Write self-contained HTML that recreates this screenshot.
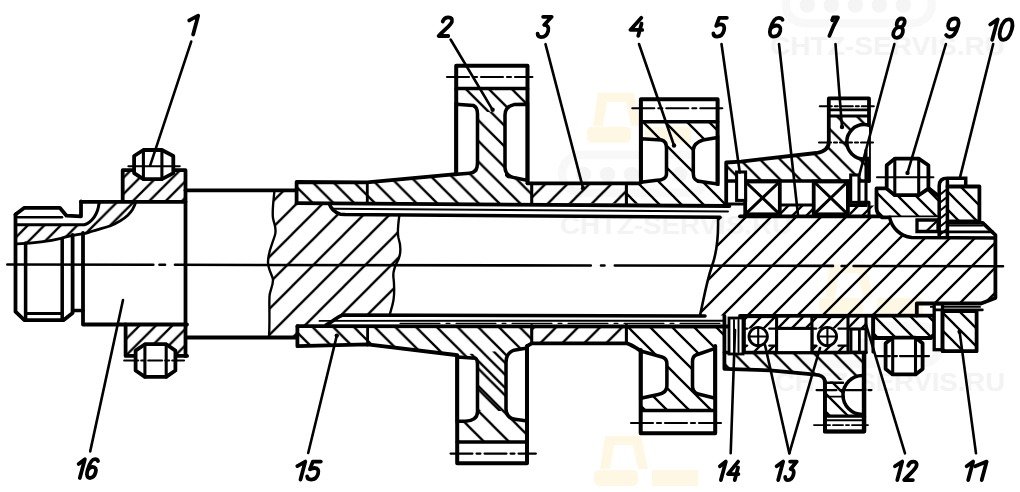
<!DOCTYPE html>
<html><head><meta charset="utf-8"><style>html,body{margin:0;padding:0;background:#fff;width:1020px;height:492px;overflow:hidden}svg{display:block}</style></head>
<body><svg width="1020" height="492" viewBox="0 0 1020 492"><defs><pattern id="hs" patternUnits="userSpaceOnUse" x="6.3" y="0" width="26" height="26"><path d="M-26,26 L26,-26 M0,26 L26,0 M0,52 L52,0" stroke="#000" stroke-width="2.3" fill="none"/></pattern><pattern id="hsR" patternUnits="userSpaceOnUse" x="13" y="0" width="25" height="25"><path d="M-25,25 L25,-25 M0,25 L25,0 M0,50 L50,0" stroke="#000" stroke-width="2.3" fill="none"/></pattern><pattern id="hb" patternUnits="userSpaceOnUse" x="6.2" y="0" width="20.7" height="20.7"><path d="M-20.7,0 L20.7,41.4 M0,0 L20.7,20.7 M0,-20.7 L41.4,20.7" stroke="#000" stroke-width="2.3" fill="none"/></pattern><pattern id="h3" patternUnits="userSpaceOnUse" x="3.4" y="0" width="22" height="22"><path d="M-22,22 L22,-22 M0,22 L22,0 M0,44 L44,0" stroke="#000" stroke-width="2.3" fill="none"/></pattern><pattern id="hg4" patternUnits="userSpaceOnUse" x="15" y="0" width="22" height="22"><path d="M-22,0 L22,44 M0,0 L22,22 M0,-22 L44,22" stroke="#000" stroke-width="2.3" fill="none"/></pattern><pattern id="hh" patternUnits="userSpaceOnUse" x="0.6" y="0" width="20" height="20"><path d="M-20,0 L20,40 M0,0 L20,20 M0,-20 L40,20" stroke="#000" stroke-width="2.3" fill="none"/></pattern><pattern id="hs2" patternUnits="userSpaceOnUse" x="0" y="0" width="18" height="18"><path d="M-18,18 L18,-18 M0,18 L18,0 M0,36 L36,0" stroke="#000" stroke-width="2.3" fill="none"/></pattern><pattern id="hb2" patternUnits="userSpaceOnUse" x="0" y="0" width="14" height="14"><path d="M-14,0 L14,28 M0,0 L14,14 M0,-14 L28,14" stroke="#000" stroke-width="2.3" fill="none"/></pattern><pattern id="hs3" patternUnits="userSpaceOnUse" x="0" y="0" width="14" height="14"><path d="M-14,14 L14,-14 M0,14 L14,0 M0,28 L28,0" stroke="#000" stroke-width="2.3" fill="none"/></pattern><pattern id="hn" patternUnits="userSpaceOnUse" x="5.7" y="0" width="16.5" height="16.5"><path d="M-16.5,16.5 L16.5,-16.5 M0,16.5 L16.5,0 M0,33.0 L33.0,0" stroke="#000" stroke-width="2.3" fill="none"/></pattern><pattern id="hb3" patternUnits="userSpaceOnUse" x="0" y="0" width="18" height="18"><path d="M-18,0 L18,36 M0,0 L18,18 M0,-18 L36,18" stroke="#000" stroke-width="2.3" fill="none"/></pattern><pattern id="hc" patternUnits="userSpaceOnUse" x="5.9" y="0" width="16.4" height="16.4"><path d="M-16.4,16.4 L16.4,-16.4 M0,16.4 L16.4,0 M0,32.8 L32.8,0" stroke="#000" stroke-width="2.3" fill="none"/></pattern><pattern id="hg2u" patternUnits="userSpaceOnUse" x="8.8" y="0" width="23" height="23"><path d="M-23,0 L23,46 M0,0 L23,23 M0,-23 L46,23" stroke="#000" stroke-width="2.3" fill="none"/></pattern><pattern id="hg2l" patternUnits="userSpaceOnUse" x="17.3" y="0" width="25" height="25"><path d="M-25,0 L25,50 M0,0 L25,25 M0,-25 L50,25" stroke="#000" stroke-width="2.3" fill="none"/></pattern><clipPath id="c7u"><rect x="800" y="100" width="69" height="80"/></clipPath><clipPath id="c7l"><rect x="800" y="366" width="64.4" height="70"/></clipPath></defs><rect width="1020" height="492" fill="#fff"/><rect x="562" y="154.8" width="146" height="38" rx="19" fill="none" stroke="#f8f8f8" stroke-width="8.26"/><circle cx="583.5" cy="174.5" r="7.8" fill="#f5f5f5"/><circle cx="607.5" cy="174.5" r="7.8" fill="#f5f5f5"/><circle cx="631.5" cy="174.5" r="7.8" fill="#f5f5f5"/><circle cx="655.5" cy="174.5" r="7.8" fill="#f5f5f5"/><circle cx="679.5" cy="174.5" r="7.8" fill="#f5f5f5"/><path d="M598,92.8 L634,92.8 L641,125.8 L631,125.8 L626,101.8 L607,101.8 L603,125.8 L593,125.8 Z" fill="#fdf7e4"/><rect x="587" y="126.8" width="44" height="16" rx="5" fill="#fdf7e4"/><rect x="645" y="126.8" width="46" height="16" fill="#fdf7e4"/><rect x="569" y="498" width="146" height="38" rx="19" fill="none" stroke="#f8f8f8" stroke-width="8.26"/><circle cx="590.5" cy="517.7" r="7.8" fill="#f5f5f5"/><circle cx="614.5" cy="517.7" r="7.8" fill="#f5f5f5"/><circle cx="638.5" cy="517.7" r="7.8" fill="#f5f5f5"/><circle cx="662.5" cy="517.7" r="7.8" fill="#f5f5f5"/><circle cx="686.5" cy="517.7" r="7.8" fill="#f5f5f5"/><path d="M605,436 L641,436 L648,469 L638,469 L633,445 L614,445 L610,469 L600,469 Z" fill="#fdf7e4"/><rect x="594" y="470" width="44" height="16" rx="5" fill="#fdf7e4"/><rect x="652" y="470" width="46" height="16" fill="#fdf7e4"/><rect x="794" y="326" width="146" height="38" rx="19" fill="none" stroke="#f8f8f8" stroke-width="8.26"/><circle cx="815.5" cy="345.7" r="7.8" fill="#f5f5f5"/><circle cx="839.5" cy="345.7" r="7.8" fill="#f5f5f5"/><circle cx="863.5" cy="345.7" r="7.8" fill="#f5f5f5"/><circle cx="887.5" cy="345.7" r="7.8" fill="#f5f5f5"/><circle cx="911.5" cy="345.7" r="7.8" fill="#f5f5f5"/><path d="M830,264 L866,264 L873,297 L863,297 L858,273 L839,273 L835,297 L825,297 Z" fill="#fdf7e4"/><rect x="819" y="298" width="44" height="16" rx="5" fill="#fdf7e4"/><rect x="877" y="298" width="46" height="16" fill="#fdf7e4"/><rect x="785.8" y="-14.799999999999997" width="146" height="38" rx="19" fill="none" stroke="#f8f8f8" stroke-width="8.26"/><circle cx="807.3" cy="4.900000000000006" r="7.8" fill="#f5f5f5"/><circle cx="831.3" cy="4.900000000000006" r="7.8" fill="#f5f5f5"/><circle cx="855.3" cy="4.900000000000006" r="7.8" fill="#f5f5f5"/><circle cx="879.3" cy="4.900000000000006" r="7.8" fill="#f5f5f5"/><circle cx="903.3" cy="4.900000000000006" r="7.8" fill="#f5f5f5"/><path d="M821.8,-76.8 L857.8,-76.8 L864.8,-43.8 L854.8,-43.8 L849.8,-67.8 L830.8,-67.8 L826.8,-43.8 L816.8,-43.8 Z" fill="#fdf7e4"/><rect x="810.8" y="-42.8" width="44" height="16" rx="5" fill="#fdf7e4"/><rect x="868.8" y="-42.8" width="46" height="16" fill="#fdf7e4"/><text x="770" y="54.8" font-family="Liberation Sans, sans-serif" font-weight="bold" font-size="25" fill="#f3f3f3" textLength="235" lengthAdjust="spacingAndGlyphs">CHTZ-SERVIS.RU</text><text x="560" y="234.4" font-family="Liberation Sans, sans-serif" font-weight="bold" font-size="25" fill="#f3f3f3" textLength="232" lengthAdjust="spacingAndGlyphs">CHTZ-SERVIS.RU</text><text x="775" y="390.8" font-family="Liberation Sans, sans-serif" font-weight="bold" font-size="25" fill="#f3f3f3" textLength="230" lengthAdjust="spacingAndGlyphs">CHTZ-SERVIS.RU</text><line x1="7.3" y1="264.51" x2="153.3" y2="264.76" stroke="#000" stroke-width="2.60" stroke-linecap="round" stroke-linecap="butt"/><line x1="159.5" y1="264.77" x2="165" y2="264.78" stroke="#000" stroke-width="2.60" stroke-linecap="round" stroke-linecap="butt"/><line x1="175" y1="264.8" x2="590.8" y2="265.5" stroke="#000" stroke-width="2.60" stroke-linecap="round" stroke-linecap="butt"/><line x1="601" y1="265.52" x2="604.5" y2="265.53" stroke="#000" stroke-width="2.60" stroke-linecap="round" stroke-linecap="butt"/><line x1="614.8" y1="265.55" x2="833" y2="265.92" stroke="#000" stroke-width="2.60" stroke-linecap="round" stroke-linecap="butt"/><line x1="841.6" y1="265.93" x2="846.7" y2="265.94" stroke="#000" stroke-width="2.60" stroke-linecap="round" stroke-linecap="butt"/><line x1="853.6" y1="265.95" x2="1003" y2="266.21" stroke="#000" stroke-width="2.60" stroke-linecap="round" stroke-linecap="butt"/><path d="M17,224.8 L84.4,224.8 C92,222 98,214 99,203.4 L135.6,202.4 C133,212 126,219 110,226 C100,229 92,231 85.4,233.4 C75,235 65,237 61,238.3 C50,241 35,243 17,243.8 Z" fill="url(#hn)" stroke="none"/><path d="M15.5,214.5 L24.4,207.8 L59.8,207.8 L66.5,215.7 L81,216.3 L81,201.5" fill="none" stroke="#000" stroke-width="3.78" stroke-linejoin="round" stroke-linecap="round" /><path d="M18,217.2 L62,217.2" fill="none" stroke="#000" stroke-width="2.60" stroke-linejoin="round" stroke-linecap="round" /><path d="M16,224.8 L84.4,224.8 C92,222 98,214 99,203.4" fill="none" stroke="#000" stroke-width="3.07" stroke-linejoin="round" stroke-linecap="round" /><path d="M17,243.8 C35,243 50,241 61,238.3 C65,237 75,235 85.4,233.4 C92,231 100,229 110,226 C126,219 133,212 135.6,202.4" fill="none" stroke="#000" stroke-width="2.83" stroke-linejoin="round" stroke-linecap="round" /><path d="M15.5,214.5 L15.5,311.7 L24.4,320.2 L63.4,320.2 L72.6,313 L72.6,235" fill="none" stroke="#000" stroke-width="3.78" stroke-linejoin="round" stroke-linecap="round" /><line x1="25.6" y1="243" x2="25.6" y2="320" stroke="#000" stroke-width="3.54" stroke-linecap="round" /><line x1="62.2" y1="238.5" x2="62.2" y2="320" stroke="#000" stroke-width="3.54" stroke-linecap="round" /><line x1="25.6" y1="313.5" x2="62.2" y2="313.5" stroke="#000" stroke-width="2.83" stroke-linecap="round" /><path d="M72.6,310.5 L83,310.5" fill="none" stroke="#000" stroke-width="3.54" stroke-linejoin="round" stroke-linecap="round" /><path d="M81,201.8 L185.5,201.8" fill="none" stroke="#000" stroke-width="3.78" stroke-linejoin="round" stroke-linecap="round" /><path d="M83,233 L83,324.5 L187,324.5" fill="none" stroke="#000" stroke-width="3.78" stroke-linejoin="round" stroke-linecap="round" /><path d="M122.7,170.2 L185.1,170.2 L185.1,201.2 L122.7,201.2 Z" fill="url(#hc)" stroke="none"/><path d="M122.7,201.2 L122.7,170.2 L185.5,170.2 L185.5,356" fill="none" stroke="#000" stroke-width="3.78" stroke-linejoin="round" stroke-linecap="round" /><path d="M125.6,324.5 L187.1,324.5 L187.1,355.9 L125.6,355.9 Z" fill="url(#hc)" stroke="none"/><path d="M125.6,324.5 L125.6,355.9 L187.1,355.9" fill="none" stroke="#000" stroke-width="3.78" stroke-linejoin="round" stroke-linecap="round" /><path d="M134.1,156 L143.4,150 L161.9,150 L173.3,156 L173.3,173.1 L161.9,179.1 L143.4,179.1 L134.1,173.1 Z" fill="#fff" stroke="#000" stroke-width="3.78" stroke-linejoin="round"/><line x1="143.4" y1="150" x2="143.4" y2="179.1" stroke="#000" stroke-width="3.07" stroke-linecap="round" /><line x1="161.9" y1="150" x2="161.9" y2="179.1" stroke="#000" stroke-width="3.07" stroke-linecap="round" /><line x1="128.4" y1="166.3" x2="179.7" y2="166.3" stroke="#000" stroke-width="2.12" stroke-linecap="round" /><path d="M135.6,350.59999999999997 L144.9,344.2 L166.2,344.2 L175.4,350.59999999999997 L175.4,370.5 L166.2,376.9 L144.9,376.9 L135.6,370.5 Z" fill="#fff" stroke="#000" stroke-width="3.78" stroke-linejoin="round"/><line x1="144.9" y1="344.2" x2="144.9" y2="376.9" stroke="#000" stroke-width="3.07" stroke-linecap="round" /><line x1="166.2" y1="344.2" x2="166.2" y2="376.9" stroke="#000" stroke-width="3.07" stroke-linecap="round" /><line x1="124.2" y1="360.5" x2="184" y2="360.5" stroke="#000" stroke-width="2.12" stroke-linecap="round" stroke-dasharray="14 3 4 3"/><path d="M274.5,190.3 L296.6,190.3 L296.6,203.2 L329.2,203.6 C331,209 334,212 340.2,214.2 L345,214.6 L399.4,215 C398,225 397,232 398.5,238 C401,246 401,252 399,258 C397,263 393,268 393.3,276 C394,282 395,290 393.5,300 C392.5,306 391,310 389.6,315 L342.7,315 C336,317 333,322 326.2,324.8 L296.6,326.2 L296.6,337.5 L269,337.5 C270,320 269,305 269.5,296 C270,290 273,286 273,280 C273,276 268,270 268,262 C268,252 272,245 275,235 C277,228 274,224 273,218 C272,212 273,205 274.5,190.3 Z" fill="url(#hs)" stroke="none"/><path d="M185.5,190.3 L296.6,190.3" fill="none" stroke="#000" stroke-width="3.78" stroke-linejoin="round" stroke-linecap="round" /><path d="M187,337.5 L296.6,337.5" fill="none" stroke="#000" stroke-width="3.78" stroke-linejoin="round" stroke-linecap="round" /><path d="M274.5,190.3 C273,205 272,212 273,218 C274,224 277,228 275,235 C272,245 268,252 268,262 C268,270 273,276 273,280 C273,286 270,290 269.5,296 C269,305 270,320 269,337.5" fill="none" stroke="#000" stroke-width="2.36" stroke-linejoin="round" stroke-linecap="round" /><path d="M399.4,215 C398,225 397,232 398.5,238 C401,246 401,252 399,258 C397,263 393,268 393.3,276 C394,282 395,290 393.5,300 C392.5,306 391,310 389.6,315" fill="none" stroke="#000" stroke-width="2.36" stroke-linejoin="round" stroke-linecap="round" /><path d="M329.2,203.6 C331,209 334,212 340.2,214.2 L345,214.6 L720,217.3" fill="none" stroke="#000" stroke-width="3.54" stroke-linejoin="round" stroke-linecap="round" /><path d="M326.2,324.8 C333,322 336,317 342.7,315 L705,316" fill="none" stroke="#000" stroke-width="3.54" stroke-linejoin="round" stroke-linecap="round" /><path d="M332,208.7 L728,211.5" fill="none" stroke="#000" stroke-width="1.89" stroke-linejoin="round" stroke-linecap="round" /><path d="M319.5,320.9 L725,320.7" fill="none" stroke="#000" stroke-width="1.89" stroke-linejoin="round" stroke-linecap="round" /><line x1="400" y1="323.3" x2="722" y2="323.3" stroke="#000" stroke-width="1.18" stroke-linecap="round" stroke-dasharray="40 6 4 6" stroke="#444"/><path d="M296.6,182 L367,182.4 L456.2,174.2 L469,173.3 C474,172 477.5,168 477.5,163 L477.5,112 L505,112 L505,167 C505,175 512,179 527.5,180.5 L531.7,183.3 L531.7,203.2 L296.6,203.4 Z" fill="url(#hb)" stroke="none"/><path d="M297.4,326.2 L531.7,325.6 L531.7,343.4 L528.2,348 C514,350 506,354 506,360 L506,411 L477.5,411 L477.5,358.5 C470,357 462,355.5 457,355.2 L455.9,355 L367.6,344.4 L297.4,346.2 Z" fill="url(#hb)" stroke="none"/><path d="M296.6,203.4 L296.6,182 L367,182.4 L456.2,174.2" fill="none" stroke="#000" stroke-width="3.78" stroke-linejoin="round" stroke-linecap="round" /><path d="M296.6,203.2 L729.4,206" fill="none" stroke="#000" stroke-width="3.78" stroke-linejoin="round" stroke-linecap="round" /><line x1="367.3" y1="183.4" x2="367.3" y2="201.2" stroke="#000" stroke-width="2.83" stroke-linecap="round" /><path d="M297.4,326.2 L297.4,346.2 L367.6,344.4 L455.9,355" fill="none" stroke="#000" stroke-width="3.78" stroke-linejoin="round" stroke-linecap="round" /><path d="M297.4,326.2 L729,326.5" fill="none" stroke="#000" stroke-width="3.78" stroke-linejoin="round" stroke-linecap="round" /><line x1="367.6" y1="327" x2="367.6" y2="345" stroke="#000" stroke-width="2.83" stroke-linecap="round" /><path d="M456.2,88.4 L527.5,88.4 L527.5,180.5 L505,178 L505,112 L477.5,112 L477.5,174 L456.2,174.3 Z" fill="url(#hg2u)" stroke="none"/><path d="M456.2,104.2 L473.4,105.5 C477,107 477.5,110 477.5,114 L477.5,163 C477.5,170 474,173 469.4,173.3 L456.2,174.3 Z" fill="#fff" stroke="#000" stroke-width="3.54"/><path d="M527.5,104.2 L514,104.6 C508,106 505,110 505,115 L505,167 C505,174 510,177.4 516,178 L527.5,180.4 Z" fill="#fff" stroke="#000" stroke-width="3.54"/><path d="M456.2,174.3 L456.2,65.7 L527.5,65.7 L527.5,182.6" fill="none" stroke="#000" stroke-width="4.01" stroke-linejoin="round" stroke-linecap="round" /><line x1="456.2" y1="88.4" x2="527.5" y2="88.4" stroke="#000" stroke-width="3.54" stroke-linecap="round" /><line x1="447" y1="77" x2="532.4" y2="77" stroke="#000" stroke-width="2.12" stroke-linecap="round" stroke-dasharray="22 4 4 4"/><path d="M457.2,355.2 L527,348 L527,442 L457.2,442 Z" fill="url(#hg2l)" stroke="none"/><path d="M457.2,357 L475.5,358.3 C477,359 477.5,362 477.5,366 L477.5,412 C477.5,418 472,421.3 465.3,421.3 L457.2,421.3 Z" fill="#fff" stroke="#000" stroke-width="3.54"/><path d="M527,348.1 L514,350.2 C509,352 506,356 506,362 L506,409 C506,415 510,419 515,419.2 L527,421 Z" fill="#fff" stroke="#000" stroke-width="3.54"/><path d="M457.2,355.2 L457.2,463.3 L527,463.3 L527,346.2" fill="none" stroke="#000" stroke-width="4.01" stroke-linejoin="round" stroke-linecap="round" /><line x1="457.2" y1="442" x2="527" y2="442" stroke="#000" stroke-width="3.54" stroke-linecap="round" /><line x1="450.5" y1="453.6" x2="535.9" y2="453.6" stroke="#000" stroke-width="2.12" stroke-linecap="round" stroke-dasharray="22 4 4 4"/><path d="M531.7,183.3 L626.4,183.5 L626.4,203.5 L531.7,203.2 Z" fill="url(#h3)" stroke="none"/><path d="M531.7,325.6 L626.4,325 L626.4,343.4 L531.7,343.4 Z" fill="url(#h3)" stroke="none"/><path d="M527.5,183.3 L640,183.3" fill="none" stroke="#000" stroke-width="3.78" stroke-linejoin="round" stroke-linecap="round" /><line x1="531.7" y1="183.3" x2="531.7" y2="203.2" stroke="#000" stroke-width="3.07" stroke-linecap="round" /><line x1="626.4" y1="183.5" x2="626.4" y2="203.5" stroke="#000" stroke-width="3.07" stroke-linecap="round" /><path d="M527,346.2 L531.7,343.4 L627,343.4 C632,345 637,348.5 640.7,350.8" fill="none" stroke="#000" stroke-width="3.78" stroke-linejoin="round" stroke-linecap="round" /><line x1="531.7" y1="325.6" x2="531.7" y2="343.4" stroke="#000" stroke-width="3.07" stroke-linecap="round" /><line x1="626.4" y1="325" x2="626.4" y2="343.4" stroke="#000" stroke-width="3.07" stroke-linecap="round" /><path d="M626.4,183.5 L640.9,182.2 L640.9,121.7 L717.6,121.7 L717.6,184 L726,185 L726,205 L626.4,203.5 Z" fill="url(#hg4)" stroke="none"/><path d="M640.9,138.8 L661.6,140 C665,141 666.5,144 666.5,148 L666.5,174 C666.5,178 662,180.2 656.7,180.2 L640.9,182.2 Z" fill="#fff" stroke="#000" stroke-width="3.54"/><path d="M717.6,137.6 L703,140 C697,142 693.3,145 693.3,150 L693.3,174 C693.3,178 696,181.5 700.6,181.5 L717.6,184 Z" fill="#fff" stroke="#000" stroke-width="3.54"/><path d="M640.9,182.2 L640.9,99.2 L717.6,99.2 L717.6,184" fill="none" stroke="#000" stroke-width="4.01" stroke-linejoin="round" stroke-linecap="round" /><line x1="640.9" y1="121.7" x2="717.6" y2="121.7" stroke="#000" stroke-width="3.54" stroke-linecap="round" /><line x1="632.3" y1="108.3" x2="725" y2="108.3" stroke="#000" stroke-width="2.12" stroke-linecap="round" stroke-dasharray="22 4 4 4"/><path d="M626.4,325 L724,325.5 L724,345 L715.2,347 L715.2,410.5 L640.7,410.5 L640.7,350 C632,348 628,345 626.4,343.4 Z" fill="url(#hg4)" stroke="none"/><path d="M640.7,351 L662,357 C665.5,358 666.9,360 666.9,364 L666.9,386 C666.9,391 663,393.5 658.3,394.5 L640.7,398.2 Z" fill="#fff" stroke="#000" stroke-width="3.54"/><path d="M715.2,348.4 L696,355 C693.5,356 692.5,358 692.5,362 L692.5,386 C692.5,391 694.5,393 698.2,394 L715.2,398.2 Z" fill="#fff" stroke="#000" stroke-width="3.54"/><path d="M640.7,350 L640.7,433.2 L715.2,433.2 L715.2,346" fill="none" stroke="#000" stroke-width="4.01" stroke-linejoin="round" stroke-linecap="round" /><line x1="640.7" y1="410.5" x2="715.2" y2="410.5" stroke="#000" stroke-width="3.54" stroke-linecap="round" /><line x1="631" y1="423" x2="721" y2="423" stroke="#000" stroke-width="2.12" stroke-linecap="round" stroke-dasharray="22 4 4 4"/><path d="M718,217.8 C718.5,235 717,252 712,266 C707,280 704.5,295 700,315.5 L916.8,315.5 L916.8,303.5 L981.1,303.5 L995.4,298 L995.4,238 L911.6,238 C900,236 892,228 889.6,217.3 L740,216.5 Z" fill="url(#hsR)" stroke="none"/><path d="M718,217.8 C718.5,235 717,252 712,266 C707,280 704.5,295 700,315.5" fill="none" stroke="#000" stroke-width="2.60" stroke-linejoin="round" stroke-linecap="round" /><path d="M740,216.3 L880,216.3" fill="none" stroke="#000" stroke-width="3.78" stroke-linejoin="round" stroke-linecap="round" /><path d="M740,316 L934,315.6" fill="none" stroke="#000" stroke-width="3.78" stroke-linejoin="round" stroke-linecap="round" /><path d="M726.2,162.5 L740.9,161.6 L816.5,153 C823,152 828.8,149 828.8,142 L828.8,116 L869,116 L869,181 L745,181 L745,172 L736.6,172 L736.6,181 L726.2,181 Z" fill="url(#hh)" stroke="none"/><path d="M726.2,204 L726.2,162.5 L740.9,161.6 L816.5,153 C823,152 828.8,149 828.8,142 L828.8,98.4 L869,98.4 L869,181" fill="none" stroke="#000" stroke-width="3.78" stroke-linejoin="round" stroke-linecap="round" /><line x1="728" y1="181" x2="869" y2="181" stroke="#000" stroke-width="3.54" stroke-linecap="round" /><line x1="819.8" y1="106.2" x2="874.6" y2="106.2" stroke="#000" stroke-width="2.12" stroke-linecap="round" stroke-dasharray="12 3 3 3"/><line x1="829" y1="109.8" x2="869" y2="109.8" stroke="#000" stroke-width="2.83" stroke-linecap="round" /><line x1="829" y1="116" x2="869" y2="116" stroke="#000" stroke-width="2.83" stroke-linecap="round" /><path d="M869,124.7 A17.2,17.2 0 0,0 869,159" fill="#fff" stroke="#000" stroke-width="3.54"/><circle cx="864" cy="141.8" r="17.2" fill="#fff" stroke="#000" stroke-width="3.54" clip-path="url(#c7u)"/><line x1="819" y1="142.5" x2="875.3" y2="142.5" stroke="#000" stroke-width="2.12" stroke-linecap="round" stroke-dasharray="12 3 3 3"/><rect x="745.2" y="181.5" width="34.59999999999991" height="32.80000000000001" fill="#fff" stroke="#000" stroke-width="3.78"/><line x1="745.2" y1="181.5" x2="779.8" y2="214.3" stroke="#000" stroke-width="3.07" stroke-linecap="round" /><line x1="745.2" y1="214.3" x2="779.8" y2="181.5" stroke="#000" stroke-width="3.07" stroke-linecap="round" /><rect x="813.7" y="181.5" width="34.19999999999993" height="32.80000000000001" fill="#fff" stroke="#000" stroke-width="3.78"/><line x1="813.7" y1="181.5" x2="847.9" y2="214.3" stroke="#000" stroke-width="3.07" stroke-linecap="round" /><line x1="813.7" y1="214.3" x2="847.9" y2="181.5" stroke="#000" stroke-width="3.07" stroke-linecap="round" /><path d="M779.8,205 L813.7,205 L813.7,216 L779.8,216 Z" fill="url(#hs3)" stroke="none"/><line x1="779.8" y1="205" x2="813.7" y2="205" stroke="#000" stroke-width="3.07" stroke-linecap="round" /><rect x="736.6" y="172" width="9" height="28.4" fill="#fff" stroke="#000" stroke-width="3.07"/><rect x="850.7" y="175" width="8.3" height="27.4" fill="#fff" stroke="#000" stroke-width="3.07"/><path d="M726.2,204 L745,204" fill="none" stroke="#000" stroke-width="2.83" stroke-linejoin="round" stroke-linecap="round" /><path d="M859,202.4 L869,202.4 L869,216" fill="none" stroke="#000" stroke-width="3.07" stroke-linejoin="round" stroke-linecap="round" /><path d="M724.4,352.6 L866,352.6 L866,380 L842,380 L826,380 C823,376 820,375 815.6,374.7 L770,370.3 L724.4,368.8 Z" fill="url(#hh)" stroke="none"/><path d="M724.4,316 L724.4,368.8 L770,370.3 L815.6,374.7 C820,375 824.9,377 824.9,382 L824.9,431.3 L864.4,431.3 L864.4,352.6" fill="none" stroke="#000" stroke-width="3.78" stroke-linejoin="round" stroke-linecap="round" /><line x1="724.4" y1="352.6" x2="866" y2="352.6" stroke="#000" stroke-width="3.54" stroke-linecap="round" /><rect x="744.3" y="316.6" width="32.30000000000007" height="36.0" fill="url(#hs3)" stroke="none"/><rect x="744.3" y="328.6" width="32.30000000000007" height="17.0" fill="#fff" stroke="none"/><rect x="744.3" y="316.6" width="32.30000000000007" height="36.0" fill="none" stroke="#000" stroke-width="3.07"/><line x1="744.3" y1="328.6" x2="747.0" y2="328.6" stroke="#000" stroke-width="2.36" stroke-linecap="round" /><line x1="769.4000000000001" y1="328.6" x2="776.6" y2="328.6" stroke="#000" stroke-width="2.36" stroke-linecap="round" /><line x1="744.3" y1="345.6" x2="747.0" y2="345.6" stroke="#000" stroke-width="2.36" stroke-linecap="round" /><line x1="769.4000000000001" y1="345.6" x2="776.6" y2="345.6" stroke="#000" stroke-width="2.36" stroke-linecap="round" /><circle cx="758.2" cy="336.5" r="9.2" fill="#fff" stroke="#000" stroke-width="2.83"/><line x1="749.0" y1="336.5" x2="767.4000000000001" y2="336.5" stroke="#000" stroke-width="2.12" stroke-linecap="round" /><line x1="758.2" y1="327.3" x2="758.2" y2="345.7" stroke="#000" stroke-width="2.12" stroke-linecap="round" /><rect x="811.9" y="316.6" width="36.10000000000002" height="36.0" fill="url(#hs3)" stroke="none"/><rect x="811.9" y="328.6" width="36.10000000000002" height="17.0" fill="#fff" stroke="none"/><rect x="811.9" y="316.6" width="36.10000000000002" height="36.0" fill="none" stroke="#000" stroke-width="3.07"/><line x1="811.9" y1="328.6" x2="816.1999999999999" y2="328.6" stroke="#000" stroke-width="2.36" stroke-linecap="round" /><line x1="838.6" y1="328.6" x2="848" y2="328.6" stroke="#000" stroke-width="2.36" stroke-linecap="round" /><line x1="811.9" y1="345.6" x2="816.1999999999999" y2="345.6" stroke="#000" stroke-width="2.36" stroke-linecap="round" /><line x1="838.6" y1="345.6" x2="848" y2="345.6" stroke="#000" stroke-width="2.36" stroke-linecap="round" /><circle cx="827.4" cy="336.5" r="9.2" fill="#fff" stroke="#000" stroke-width="2.83"/><line x1="818.1999999999999" y1="336.5" x2="836.6" y2="336.5" stroke="#000" stroke-width="2.12" stroke-linecap="round" /><line x1="827.4" y1="327.3" x2="827.4" y2="345.7" stroke="#000" stroke-width="2.12" stroke-linecap="round" /><path d="M776.6,316.6 L811.9,316.6 L811.9,328.4 L776.6,328.4 Z" fill="url(#hs3)" stroke="none"/><rect x="776.6" y="328.4" width="35.3" height="24.2" fill="#fff" stroke="#000" stroke-width="3.07"/><rect x="729" y="318" width="14" height="36" fill="#fff" stroke="#000" stroke-width="2.83"/><line x1="734" y1="320" x2="734" y2="352" stroke="#000" stroke-width="1.89" stroke-linecap="round" /><line x1="738.5" y1="320" x2="738.5" y2="352" stroke="#000" stroke-width="1.89" stroke-linecap="round" /><path d="M848,316.6 L866,316.6 L866,329 L848,329 Z" fill="url(#hs3)" stroke="none"/><rect x="851" y="329" width="8.4" height="23" fill="#fff" stroke="#000" stroke-width="2.83"/><line x1="848" y1="329" x2="866" y2="329" stroke="#000" stroke-width="2.36" stroke-linecap="round" /><path d="M824.9,381.5 L864.4,381.5 L864.4,416.2 L824.9,416.2 Z" fill="url(#hb3)" stroke="none"/><circle cx="862.5" cy="395" r="19.5" fill="#fff" stroke="#000" stroke-width="3.54" clip-path="url(#c7l)"/><line x1="824.9" y1="416.2" x2="864.4" y2="416.2" stroke="#000" stroke-width="3.30" stroke-linecap="round" /><line x1="824.9" y1="420.3" x2="864.4" y2="420.3" stroke="#000" stroke-width="1.89" stroke-linecap="round" /><line x1="814" y1="425.1" x2="871" y2="425.1" stroke="#000" stroke-width="1.89" stroke-linecap="round" stroke-dasharray="10 3 3 3"/><line x1="816.5" y1="390.1" x2="872.7" y2="390.1" stroke="#000" stroke-width="2.12" stroke-linecap="round" stroke-dasharray="20 3 3 3"/><line x1="824.9" y1="396.6" x2="844" y2="396.6" stroke="#000" stroke-width="1.89" stroke-linecap="round" /><line x1="824.9" y1="382.8" x2="843" y2="382.8" stroke="#000" stroke-width="2.36" stroke-linecap="round" /><path d="M824.9,381.5 L824.9,431.7 L863.7,431.7 L863.7,352.6" fill="none" stroke="#000" stroke-width="3.78" stroke-linejoin="round" stroke-linecap="round" /><path d="M849.8,205.5 L875,205.5 L875,216.3 L849.8,216.3 Z" fill="url(#hs3)" stroke="none"/><line x1="849.8" y1="205.5" x2="866" y2="205.5" stroke="#000" stroke-width="2.83" stroke-linecap="round" /><line x1="866" y1="150" x2="866" y2="205.5" stroke="#000" stroke-width="3.07" stroke-linecap="round" /><path d="M876.5,188.4 L929,188.4 L938.5,196 L938.5,217.3 L882,217.3 C878,215 876.5,212 876.5,208 Z" fill="url(#hb3)" stroke="none"/><path d="M938.5,217.3 L882,217.3 C878,215 876.5,212 876.5,208 L876.5,188.4 L929,188.4 L938.5,196" fill="none" stroke="#000" stroke-width="3.78" stroke-linejoin="round" stroke-linecap="round" /><path d="M886.7,165.2 L894.8,158.6 L918.7,158.6 L928.4,165.2 L928.4,188.6 L918.7,195.2 L894.8,195.2 L886.7,188.6 Z" fill="#fff" stroke="#000" stroke-width="3.78" stroke-linejoin="round"/><line x1="894.8" y1="158.6" x2="894.8" y2="195.2" stroke="#000" stroke-width="3.07" stroke-linecap="round" /><line x1="918.7" y1="158.6" x2="918.7" y2="195.2" stroke="#000" stroke-width="3.07" stroke-linecap="round" /><line x1="877" y1="177.2" x2="933.4" y2="177.2" stroke="#000" stroke-width="2.12" stroke-linecap="round" /><path d="M889.6,217.3 C892,228 900,236 911.6,237.6 L940,237.6 L940,217.3 Z" fill="#fff" stroke="none"/><path d="M889.6,217.3 C892,228 900,236 911.6,237.6 L994.8,238" fill="none" stroke="#000" stroke-width="3.54" stroke-linejoin="round" stroke-linecap="round" /><path d="M917,220 L938,220 L938,231.5 L917,231.5 Z" fill="#fff" stroke="#000" stroke-width="3.30"/><line x1="926" y1="231.5" x2="936" y2="222" stroke="#000" stroke-width="2.36" stroke-linecap="round" /><path d="M939.2,236.5 L939.2,186 C939.2,181 942,178.3 947.4,178.3 L965.7,178.3 L965.7,186.5" fill="#fff" stroke="#000" stroke-width="3.54"/><line x1="947.4" y1="181" x2="947.4" y2="236.5" stroke="#000" stroke-width="3.54" stroke-linecap="round" /><line x1="940.8" y1="194" x2="945.8" y2="190" stroke="#000" stroke-width="2.12" stroke-linecap="round" /><line x1="940.8" y1="202" x2="945.8" y2="198" stroke="#000" stroke-width="2.12" stroke-linecap="round" /><line x1="940.8" y1="210" x2="945.8" y2="206" stroke="#000" stroke-width="2.12" stroke-linecap="round" /><line x1="940.8" y1="218" x2="945.8" y2="214" stroke="#000" stroke-width="2.12" stroke-linecap="round" /><line x1="940.8" y1="226" x2="945.8" y2="222" stroke="#000" stroke-width="2.12" stroke-linecap="round" /><line x1="940.8" y1="234" x2="945.8" y2="230" stroke="#000" stroke-width="2.12" stroke-linecap="round" /><path d="M947.4,186.5 L979.4,186.5 L979.4,221.3 L947.4,221.3 Z" fill="url(#hb3)" stroke="none"/><path d="M947.4,186.5 L979.4,186.5 L979.4,221.3 L947.4,221.3" fill="none" stroke="#000" stroke-width="3.78" stroke-linejoin="round" stroke-linecap="round" /><path d="M947.4,222.8 L982.7,222.8 L995.4,235 L995.4,298 L981.1,303.5 L916.8,303.5 L916.8,315.5" fill="none" stroke="#000" stroke-width="3.78" stroke-linejoin="round" stroke-linecap="round" /><line x1="948" y1="225.6" x2="983" y2="225.6" stroke="#000" stroke-width="1.65" stroke-linecap="round" /><line x1="940" y1="231.9" x2="992.8" y2="231.9" stroke="#000" stroke-width="2.60" stroke-linecap="round" /><line x1="930.8" y1="306.9" x2="980" y2="306.9" stroke="#000" stroke-width="1.89" stroke-linecap="round" /><line x1="866" y1="316" x2="866" y2="352.5" stroke="#000" stroke-width="3.07" stroke-linecap="round" /><line x1="873" y1="316" x2="873" y2="352" stroke="#000" stroke-width="3.07" stroke-linecap="round" /><path d="M873.2,315.5 L934.2,315.5 L934.2,334 L931,338 L873.2,338 Z" fill="url(#hb3)" stroke="none"/><path d="M873.2,315.5 L873.2,338 L931,338 L934.2,334 L934.2,315.5" fill="none" stroke="#000" stroke-width="3.78" stroke-linejoin="round" stroke-linecap="round" /><path d="M885.6,343.2 L892.7,337.7 L915.5,337.7 L922.6,343.2 L922.6,368.9 L915.5,374.4 L892.7,374.4 L885.6,368.9 Z" fill="#fff" stroke="#000" stroke-width="3.78" stroke-linejoin="round"/><line x1="892.7" y1="337.7" x2="892.7" y2="374.4" stroke="#000" stroke-width="3.07" stroke-linecap="round" /><line x1="915.5" y1="337.7" x2="915.5" y2="374.4" stroke="#000" stroke-width="3.07" stroke-linecap="round" /><line x1="876" y1="356.1" x2="929" y2="356.1" stroke="#000" stroke-width="2.12" stroke-linecap="round" stroke-dasharray="14 3 4 3"/><rect x="934.2" y="304" width="8.3" height="45.7" fill="#fff" stroke="#000" stroke-width="3.30"/><path d="M942.5,311 L976.6,311 L976.6,351.2 L942.5,351.2 Z" fill="url(#hb3)" stroke="none"/><path d="M942.5,311 L976.6,311 L976.6,351.2 L942.5,351.2 Z" fill="none" stroke="#000" stroke-width="3.78" stroke-linejoin="round" stroke-linecap="round" /><line x1="934.2" y1="309.9" x2="982.3" y2="309.9" stroke="#000" stroke-width="2.83" stroke-linecap="round" /><path d="M0,5 L10,0 L10,20" transform="translate(190.46,15.70) skewX(-15) scale(0.770,0.940)" fill="none" stroke="#000" stroke-width="3.78" vector-effect="non-scaling-stroke" stroke-linecap="round" stroke-linejoin="round"/><path d="M0.5,4.5 C0.8,1.5 2.8,0 5,0 C7.8,0 9.6,1.8 9.6,4.8 C9.6,8.5 5,12.5 0.3,20 L9.8,20" transform="translate(443.30,17.30) skewX(-15) scale(1.020,0.935)" fill="none" stroke="#000" stroke-width="3.78" vector-effect="non-scaling-stroke" stroke-linecap="round" stroke-linejoin="round"/><path d="M1,0 L9.5,0 L4.2,8 C7.8,8 9.8,10.5 9.8,14 C9.8,17.8 7.5,20 4.6,20 C2.2,20 0.6,18.6 0,16.5" transform="translate(542.09,16.80) skewX(-15) scale(1.010,1.015)" fill="none" stroke="#000" stroke-width="3.78" vector-effect="non-scaling-stroke" stroke-linecap="round" stroke-linejoin="round"/><path d="M6.5,0 L0,13.5 L10,13.5 M8,6.5 L8,20" transform="translate(633.66,17.80) skewX(-15) scale(1.180,0.900)" fill="none" stroke="#000" stroke-width="3.78" vector-effect="non-scaling-stroke" stroke-linecap="round" stroke-linejoin="round"/><path d="M9.3,0 L1.6,0 L0.8,8.6 C2.2,7.5 3.5,7.1 5,7.1 C8.2,7.1 9.8,9.8 9.8,13.6 C9.8,17.6 7.6,20 4.6,20 C2.2,20 0.6,18.6 0,16.5" transform="translate(717.56,17.80) skewX(-15) scale(1.000,0.940)" fill="none" stroke="#000" stroke-width="3.78" vector-effect="non-scaling-stroke" stroke-linecap="round" stroke-linejoin="round"/><path d="M9,2 C8.2,0.7 6.8,0 5.2,0 C2,0 0.3,4 0.3,12 C0.3,17 2.2,20 5,20 C8,20 9.7,17.5 9.7,14 C9.7,10.5 7.8,8.2 5,8.2 C2.6,8.2 0.9,9.8 0.3,12" transform="translate(772.95,17.80) skewX(-15) scale(1.120,0.940)" fill="none" stroke="#000" stroke-width="3.78" vector-effect="non-scaling-stroke" stroke-linecap="round" stroke-linejoin="round"/><path d="M0.2,3 L0.8,0 L10,0 C7,5.5 4.5,12 3,20" transform="translate(832.77,17.50) skewX(-15) scale(0.520,0.920)" fill="none" stroke="#000" stroke-width="3.78" vector-effect="non-scaling-stroke" stroke-linecap="round" stroke-linejoin="round"/><path d="M5,9 C2.2,9 0.9,7 0.9,4.6 C0.9,2 2.6,0 5,0 C7.4,0 9.1,2 9.1,4.6 C9.1,7 7.8,9 5,9 C2,9 0,11.5 0,14.6 C0,17.8 2,20 5,20 C8,20 10,17.8 10,14.6 C10,11.5 8,9 5,9 Z" transform="translate(897.22,18.50) skewX(-15) scale(0.930,0.965)" fill="none" stroke="#000" stroke-width="3.78" vector-effect="non-scaling-stroke" stroke-linecap="round" stroke-linejoin="round"/><path d="M9.7,8 C9.2,10.2 7.5,12 5,12 C2,12 0.3,9.5 0.3,6 C0.3,2.5 2.2,0 5,0 C8,0 9.7,3 9.7,8 C9.7,16 7.8,20 4.8,20 C3.2,20 2,19.3 1,18" transform="translate(949.41,18.50) skewX(-15) scale(1.100,0.915)" fill="none" stroke="#000" stroke-width="3.78" vector-effect="non-scaling-stroke" stroke-linecap="round" stroke-linejoin="round"/><path d="M0,5 L10,0 L10,20" transform="translate(991.57,19.40) skewX(-15) scale(0.610,1.020)" fill="none" stroke="#000" stroke-width="3.78" vector-effect="non-scaling-stroke" stroke-linecap="round" stroke-linejoin="round"/><path d="M5,0 C8,0 10,4 10,10 C10,16 8,20 5,20 C2,20 0,16 0,10 C0,4 2,0 5,0 Z" transform="translate(1003.10,19.40) skewX(-15) scale(1.140,1.020)" fill="none" stroke="#000" stroke-width="3.78" vector-effect="non-scaling-stroke" stroke-linecap="round" stroke-linejoin="round"/><path d="M0,5 L10,0 L10,20" transform="translate(79.86,459.20) skewX(-15) scale(0.500,0.940)" fill="none" stroke="#000" stroke-width="3.78" vector-effect="non-scaling-stroke" stroke-linecap="round" stroke-linejoin="round"/><path d="M9,2 C8.2,0.7 6.8,0 5.2,0 C2,0 0.3,4 0.3,12 C0.3,17 2.2,20 5,20 C8,20 9.7,17.5 9.7,14 C9.7,10.5 7.8,8.2 5,8.2 C2.6,8.2 0.9,9.8 0.3,12" transform="translate(90.25,459.20) skewX(-15) scale(0.920,0.940)" fill="none" stroke="#000" stroke-width="3.78" vector-effect="non-scaling-stroke" stroke-linecap="round" stroke-linejoin="round"/><path d="M0,5 L10,0 L10,20" transform="translate(298.51,461.60) skewX(-15) scale(0.680,0.900)" fill="none" stroke="#000" stroke-width="3.78" vector-effect="non-scaling-stroke" stroke-linecap="round" stroke-linejoin="round"/><path d="M9.3,0 L1.6,0 L0.8,8.6 C2.2,7.5 3.5,7.1 5,7.1 C8.2,7.1 9.8,9.8 9.8,13.6 C9.8,17.6 7.6,20 4.6,20 C2.2,20 0.6,18.6 0,16.5" transform="translate(311.16,461.60) skewX(-15) scale(1.040,0.900)" fill="none" stroke="#000" stroke-width="3.78" vector-effect="non-scaling-stroke" stroke-linecap="round" stroke-linejoin="round"/><path d="M0,5 L10,0 L10,20" transform="translate(721.14,461.60) skewX(-15) scale(0.470,0.925)" fill="none" stroke="#000" stroke-width="3.78" vector-effect="non-scaling-stroke" stroke-linecap="round" stroke-linejoin="round"/><path d="M6.5,0 L0,13.5 L10,13.5 M8,6.5 L8,20" transform="translate(731.28,461.60) skewX(-15) scale(1.050,0.925)" fill="none" stroke="#000" stroke-width="3.78" vector-effect="non-scaling-stroke" stroke-linecap="round" stroke-linejoin="round"/><path d="M0,5 L10,0 L10,20" transform="translate(777.84,461.60) skewX(-15) scale(0.530,0.925)" fill="none" stroke="#000" stroke-width="3.78" vector-effect="non-scaling-stroke" stroke-linecap="round" stroke-linejoin="round"/><path d="M1,0 L9.5,0 L4.2,8 C7.8,8 9.8,10.5 9.8,14 C9.8,17.8 7.5,20 4.6,20 C2.2,20 0.6,18.6 0,16.5" transform="translate(789.31,461.60) skewX(-15) scale(0.780,0.925)" fill="none" stroke="#000" stroke-width="3.78" vector-effect="non-scaling-stroke" stroke-linecap="round" stroke-linejoin="round"/><path d="M0,5 L10,0 L10,20" transform="translate(896.14,461.60) skewX(-15) scale(0.610,0.925)" fill="none" stroke="#000" stroke-width="3.78" vector-effect="non-scaling-stroke" stroke-linecap="round" stroke-linejoin="round"/><path d="M0.5,4.5 C0.8,1.5 2.8,0 5,0 C7.8,0 9.6,1.8 9.6,4.8 C9.6,8.5 5,12.5 0.3,20 L9.8,20" transform="translate(908.83,461.60) skewX(-15) scale(0.920,0.925)" fill="none" stroke="#000" stroke-width="3.78" vector-effect="non-scaling-stroke" stroke-linecap="round" stroke-linejoin="round"/><path d="M0,5 L10,0 L10,20" transform="translate(967.84,461.60) skewX(-15) scale(0.530,0.925)" fill="none" stroke="#000" stroke-width="3.78" vector-effect="non-scaling-stroke" stroke-linecap="round" stroke-linejoin="round"/><path d="M0,5 L10,0 L10,20" transform="translate(976.46,461.60) skewX(-15) scale(1.020,0.925)" fill="none" stroke="#000" stroke-width="3.78" vector-effect="non-scaling-stroke" stroke-linecap="round" stroke-linejoin="round"/><line x1="191.2" y1="41.6" x2="150.2" y2="165.4" stroke="#000" stroke-width="2.60" stroke-linecap="round" /><line x1="450.6" y1="39.5" x2="492.6" y2="109.8" stroke="#000" stroke-width="2.60" stroke-linecap="round" /><line x1="545.5" y1="44.2" x2="583.1" y2="188.3" stroke="#000" stroke-width="2.60" stroke-linecap="round" /><line x1="639" y1="44" x2="674" y2="145.5" stroke="#000" stroke-width="2.60" stroke-linecap="round" /><line x1="721.5" y1="44" x2="739.8" y2="172.5" stroke="#000" stroke-width="2.60" stroke-linecap="round" /><line x1="779" y1="44" x2="798" y2="215" stroke="#000" stroke-width="2.60" stroke-linecap="round" /><line x1="835.5" y1="44" x2="842" y2="127" stroke="#000" stroke-width="2.60" stroke-linecap="round" /><line x1="894.4" y1="44" x2="859.2" y2="175.3" stroke="#000" stroke-width="2.60" stroke-linecap="round" /><line x1="945.9" y1="44" x2="907.5" y2="172.9" stroke="#000" stroke-width="2.60" stroke-linecap="round" /><line x1="993.2" y1="44" x2="960" y2="177.4" stroke="#000" stroke-width="2.60" stroke-linecap="round" /><line x1="90.2" y1="451.4" x2="123" y2="300" stroke="#000" stroke-width="2.60" stroke-linecap="round" /><line x1="308.2" y1="453" x2="336.8" y2="335.6" stroke="#000" stroke-width="2.60" stroke-linecap="round" /><line x1="730.7" y1="453.3" x2="735" y2="330" stroke="#000" stroke-width="2.60" stroke-linecap="round" /><line x1="789.3" y1="453.3" x2="765" y2="345" stroke="#000" stroke-width="2.60" stroke-linecap="round" /><line x1="789.3" y1="453.3" x2="820" y2="348" stroke="#000" stroke-width="2.60" stroke-linecap="round" /><line x1="905" y1="453.3" x2="866" y2="324.6" stroke="#000" stroke-width="2.60" stroke-linecap="round" /><line x1="976" y1="453.3" x2="959.6" y2="331.7" stroke="#000" stroke-width="2.60" stroke-linecap="round" /><circle cx="492.6" cy="109.8" r="2.2" fill="#000"/><circle cx="583.1" cy="188.3" r="2.2" fill="#000"/><circle cx="674" cy="145.5" r="2.2" fill="#000"/><circle cx="907.5" cy="172.9" r="2.2" fill="#000"/><circle cx="336.8" cy="335.6" r="2.2" fill="#000"/><circle cx="842" cy="127" r="2.2" fill="#000"/><circle cx="959.6" cy="331.7" r="2.2" fill="#000"/></svg></body></html>
